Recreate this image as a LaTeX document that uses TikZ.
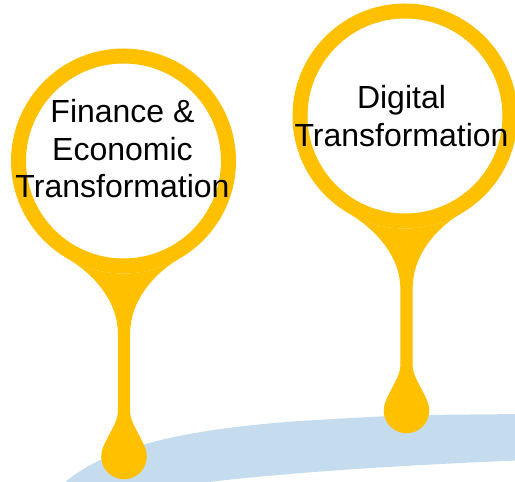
\documentclass[tikz,border=0pt]{standalone}
\usepackage{fontspec}
\setsansfont{Liberation Sans}
\usepackage{xcolor}
\usepackage{tikz}
\usetikzlibrary{calc}
\definecolor{pinyellow}{RGB}{255,192,0}
\definecolor{roadblue}{RGB}{197,220,239}
\definecolor{textdark}{RGB}{0,0,0}

\begin{document}
\begin{tikzpicture}[
		x=1pt,
		y=1pt,
		font=\sffamily,
		ring/.style={
			circle,
			draw=pinyellow,
			line width=15pt,
			fill=white,
			minimum size=210pt,
			inner sep=0pt
		},
		pin/.style={fill=pinyellow},
		road/.style={fill=roadblue},
		pintext/.style={font=\sffamily\fontsize{32}{37.5}\selectfont, text=textdark, align=center}
	]
	
	% Canvas
	\useasboundingbox (0,0) rectangle (515,482);
	\clip (0,0) rectangle (515,482);
	
	% Road band
	\path[road] (60,-5) .. controls (95,30) and (170,52) .. (300,61)
	.. controls (400,67) .. (530,68) -- (530,22)
	.. controls (400,17) and (260,8) .. (170,-5) -- cycle;
	
	% Pins: ring, stem and drop
	\foreach \name/\cx/\cy/\sx/\dy in {finance/123.5/321/124/25.5,digital/405/366/406.5/71.5}{
		\node[ring] (\name) at (\cx,\cy) {};
		\coordinate (\name-drop) at (\sx,\dy);
		\coordinate (\name-stem) at (\sx,\cy-172);
		\path[pin] ($(\name.center)+(240:112.5)$)
		.. controls +(-30:30) and +(0,32) .. ($(\name-stem)+(-6.2,0)$)
		-- ($(\name-drop)+(-6.2,44)$)
		.. controls +(0,-10) and +(70:14) .. ($(\name-drop)+(160:22.8)$)
		arc[start angle=160, end angle=380, radius=22.8]
		.. controls +(110:14) and +(0,-10) .. ($(\name-drop)+(6.2,44)$)
		-- ($(\name-stem)+(6.2,0)$)
		.. controls +(0,32) and +(210:30) .. ($(\name.center)+(300:112.5)$)
		arc[start angle=300, end angle=240, radius=112.5]
		-- cycle;
	}
	
	% Pin text
	\node[pintext] (finance-text) at ($(finance.center)+(-1,12)$) {Finance \&\\Economic\\Transformation};
	\node[pintext] (digital-text) at ($(digital.center)+(-3.5,0)$) {Digital\\Transformation};
	
\end{tikzpicture}
\end{document}
